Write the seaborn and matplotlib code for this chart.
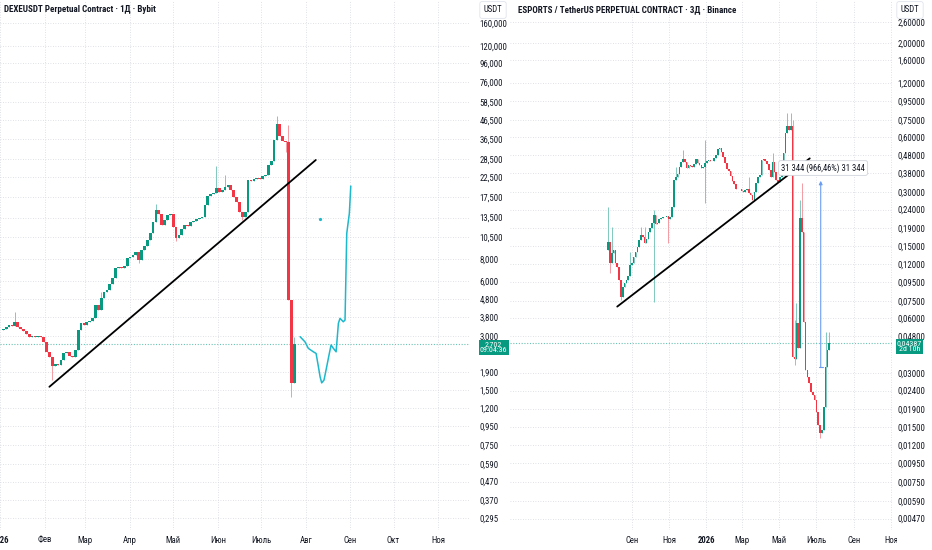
import numpy as np
import pandas as pd
import matplotlib
matplotlib.use('Agg')
import matplotlib.pyplot as plt
import matplotlib.dates as mdates
from matplotlib.ticker import NullLocator
from matplotlib.transforms import Bbox, TransformedBbox
import seaborn as sns

# ---------------- DEXEUSDT (Bybit), read every 2nd day ----------------
dexe_start = '2025-12-28'
dexe_open0 = 3.15
dexe_close = [3.19, 3.23, 3.23, 3.27, 3.36, 3.44, 3.40, 3.58, 3.36, 3.27,
              3.19, 3.07, 2.95, 2.99, 2.95, 2.99, 2.95, 2.78, 2.44, 2.29,
              2.04, 2.10, 2.07, 2.21, 2.41, 2.44, 2.32, 2.29, 2.50, 3.23,
              3.53, 3.44, 3.58, 3.62, 3.77, 4.44, 4.17, 4.85, 5.24, 5.37,
              5.80, 6.26, 7.11, 7.20, 7.11, 7.29, 8.07, 8.18, 8.38, 8.71,
              7.87, 8.94, 9.40, 10.14, 11.09, 12.76, 14.87, 14.13, 12.29, 13.09,
              13.95, 14.13, 11.98, 10.41, 10.82, 11.67, 12.29, 12.13, 12.76, 12.93,
              13.26, 13.43, 13.60, 15.89, 17.76, 18.22, 18.45, 19.67, 18.68, 19.17,
              19.92, 20.43, 19.17, 17.54, 16.46, 14.49, 13.60, 14.49, 21.77, 21.50,
              22.05, 22.34, 22.10, 22.91, 23.20, 26.30, 27.73, 36.22, 44.40, 38.10,
              35.77, 35.30, 4.73, 1.65, 2.702]
dexe_hi = {7: 4.07, 37: 5.26, 56: 16.0, 77: 25.9, 80: 23.2, 98: 49.1, 102: 43.8, 104: 2.95}
dexe_lo = {20: 1.71, 50: 7.57, 63: 10.0, 86: 13.1, 101: 31.0, 103: 1.38}
dexe_price = 2.702
dexe_timer = '09:04:36'
dexe_trend_date = ['2026-02-04', '2026-08-08']
dexe_trend_price = [1.57, 28.1]
# hand drawn cyan path: days after 2026-01-01
cyan_day = [208.1, 211.5, 213.8, 217.3, 219.2, 220.8, 222.0, 223.1, 224.7, 226.6, 228.4,
            229.6, 231.2, 233.1, 234.7, 235.8, 238.1, 239.3, 240.5, 242.3, 243.3]
cyan_price = [2.97, 2.78, 2.56, 2.45, 2.40, 2.03, 1.78, 1.65, 1.71, 2.03, 2.40,
              2.67, 2.56, 2.45, 3.52, 3.75, 3.59, 3.67, 11.05, 14.25, 20.17]
cyan_dot = (221.9, 13.26)
dexe_yticks = [160, 120, 96, 76, 58.5, 46.5, 36.5, 28.5, 22.5, 17.5, 13.5, 10.5, 8, 6,
               4.8, 3.8, 3.0, 1.9, 1.5, 1.2, 0.95, 0.75, 0.59, 0.47, 0.37, 0.295]
dexe_months = ['2026', 'Фев', 'Мар', 'Апр', 'Май', 'Июн', 'Июль', 'Авг', 'Сен', 'Окт', 'Ноя']

# ---------------- ESPORTS (Binance), 3D candles ----------------
esp_start = '2025-07-24'
esp_open0 = 0.1434
esp_close = [0.1594, 0.1211, 0.1375, 0.1434, 0.1211, 0.1160, 0.0979, 0.0792, 0.0899, 0.0946,
             0.0979, 0.1030, 0.1185, 0.1211, 0.1317, 0.1404, 0.1496, 0.1628, 0.1735, 0.1685,
             0.1574, 0.1642, 0.1811, 0.1889, 0.2030, 0.2239, 0.1996, 0.2030, 0.2118, 0.2146,
             0.2173, 0.2192, 0.2211, 0.2137, 0.2192, 0.2468, 0.3493, 0.3614, 0.3772, 0.4140,
             0.4412, 0.4583, 0.4393, 0.4053, 0.4210, 0.4175, 0.4140, 0.4282, 0.4544, 0.4356,
             0.4210, 0.4053, 0.4140, 0.4356, 0.4468, 0.4506, 0.4449, 0.4468, 0.4603, 0.4802,
             0.5161, 0.5228, 0.5011, 0.4661, 0.4319, 0.4036, 0.3934, 0.3677, 0.3464, 0.3320,
             0.3102, 0.3128, 0.3102, 0.3050, 0.2999, 0.3076, 0.3102, 0.2973, 0.2899, 0.2710,
             0.3012, 0.3349, 0.3614, 0.3708, 0.4506, 0.4583, 0.4468, 0.4282, 0.3967, 0.3614,
             0.4412, 0.3884, 0.3493, 0.3405, 0.3614, 0.3772, 0.4904, 0.6326, 0.6945, 0.6604,
             0.6945, 0.0369, 0.0357, 0.0569, 0.0411, 0.2146, 0.1811, 0.0576, 0.0312, 0.0286,
             0.0263, 0.0237, 0.0227, 0.0213, 0.0183, 0.0155, 0.0139, 0.0145, 0.0195, 0.0325,
             0.0402, 0.04387]
esp_hi = {0: 0.2489, 2: 0.1930, 12: 0.1404, 18: 0.1930, 20: 0.1930, 25: 0.2380, 37: 0.4140,
          41: 0.5118, 53: 0.5810, 77: 0.3614, 90: 0.4904, 98: 0.8157, 100: 0.8157, 101: 0.7490,
          102: 0.0589, 103: 0.0728, 105: 0.2710, 106: 0.3349, 119: 0.0507, 121: 0.0507}
esp_lo = {1: 0.1066, 7: 0.0759, 25: 0.0743, 33: 0.1561, 53: 0.2597, 102: 0.0332, 116: 0.0131}
esp_price = 0.04387
esp_timer = '2d 10h'
esp_trend_date = ['2025-08-08', '2026-06-20']
esp_trend_price = [0.0698, 0.460]
esp_measure_date = '2026-07-08'
esp_measure = [0.03243, 0.3459]
esp_measure_text = '31 344 (966,46%) 31 344'
esp_measure_label = ('2026-07-12', 0.407)
esp_yticks = [2.6, 2.0, 1.6, 1.2, 0.95, 0.75, 0.6, 0.48, 0.38, 0.30, 0.24, 0.19, 0.15, 0.12,
              0.095, 0.075, 0.06, 0.048, 0.03, 0.024, 0.019, 0.015, 0.012, 0.0095, 0.0075,
              0.0059, 0.0047]
esp_months = ['Сен', 'Ноя', '2026', 'Мар', 'Май', 'Июль', 'Сен', 'Ноя']

GREEN = '#089981'
RED = '#f23645'
GREEN_WICK = '#7fc9bd'
RED_WICK = '#f59aa2'
CYAN = '#1cb8cc'
TXT = '#131722'

sns.set_theme(style='white')
plt.rcParams['font.family'] = ['Roboto Condensed', 'Liberation Sans Narrow', 'Roboto', 'DejaVu Sans']


def num(d):
    return mdates.date2num(pd.to_datetime(d))


def fmt(v, nd):
    return f'{v:.{nd}f}'.replace('.', ',')


def candles(ax, dates, open0, closes, hi, lo, width):
    x = mdates.date2num(dates)
    c = np.array(closes, float)
    o = np.r_[open0, c[:-1]]
    top = np.maximum(o, c)
    bot = np.minimum(o, c)
    high = top.copy()
    low = bot.copy()
    for k, v in hi.items():
        high[k] = v
    for k, v in lo.items():
        low[k] = v
    up = c >= o
    ax.vlines(x, low, high, colors=np.where(up, GREEN_WICK, RED_WICK), lw=0.7, zorder=2)
    ax.bar(x, top - bot, bottom=bot, width=width, color=np.where(up, GREEN, RED),
           lw=0, zorder=3)


def style(ax, yticks, nd, ylim, xlim, tick_dates, tick_labels, pad):
    ax.set_yscale('log')
    ax.set_ylim(*ylim)
    ax.set_xlim(num(xlim[0]), num(xlim[1]))
    ax.yaxis.set_minor_locator(NullLocator())
    ax.set_yticks(yticks, labels=[fmt(v, nd) for v in yticks])
    ax.yaxis.tick_right()
    ax.set_xticks(mdates.date2num(tick_dates), labels=tick_labels)
    ax.xaxis.set_minor_locator(NullLocator())
    ax.tick_params(axis='y', length=0, pad=pad, labelsize=6.3, labelcolor=TXT)
    ax.tick_params(axis='x', length=0, pad=4, labelsize=6.3, labelcolor=TXT)
    for lbl in ax.get_xticklabels():
        if lbl.get_text() == '2026':
            lbl.set_fontweight('bold')
    for s in ax.spines.values():
        s.set_visible(False)
    ax.grid(True, ls=(0, (1, 2)), color='#d5d8df', lw=0.6)
    ax.set_axisbelow(True)


fig = plt.figure(figsize=(9.32, 5.5), dpi=100)
ax1 = fig.add_axes([0, 20 / 550, 470 / 932, 530 / 550])
ax2 = fig.add_axes([510 / 932, 20 / 550, 382 / 932, 530 / 550])

# ---- left chart ----
dexe_dates = pd.date_range(dexe_start, periods=len(dexe_close), freq='2D')
candles(ax1, dexe_dates, dexe_open0, dexe_close, dexe_hi, dexe_lo, 1.9)
ax1.axhline(dexe_price, ls=(0, (1, 1.5)), color=GREEN, lw=0.8, alpha=0.6, zorder=1)
sns.lineplot(x=num(dexe_trend_date), y=dexe_trend_price, ax=ax1, color='black', lw=1.3, zorder=4)
cyan_x = num(pd.Timestamp('2026-01-01') + pd.to_timedelta(cyan_day, unit='D'))
sns.lineplot(x=cyan_x, y=cyan_price, ax=ax1, color=CYAN, lw=1.1, sort=False, zorder=4)
dot_x = num(pd.Timestamp('2026-01-01') + pd.to_timedelta(cyan_dot[0], unit='D'))
ax1.plot([dot_x], [cyan_dot[1]], marker='o', ms=1.3, color=CYAN, zorder=4)
style(ax1, dexe_yticks, 3, (0.254, 215), ('2025-12-31 17:00', '2026-11-23 02:00'),
      pd.date_range('2026-01-01', periods=len(dexe_months), freq='MS'), dexe_months, 7)
ax1.annotate(f'{fmt(dexe_price, 3)}\n{dexe_timer}', xy=(1, dexe_price),
             xycoords=('axes fraction', 'data'), xytext=(17, -2.4), textcoords='offset points',
             ha='center', va='center', fontsize=5.7, color='white', linespacing=1.0,
             bbox=dict(boxstyle='square,pad=0.15', fc=GREEN, ec='none'),
             annotation_clip=False, zorder=10)

# ---- right chart ----
esp_dates = pd.date_range(esp_start, periods=len(esp_close), freq='3D')
candles(ax2, esp_dates, esp_open0, esp_close, esp_hi, esp_lo, 2.6)
ax2.axhline(esp_price, ls=(0, (1, 1.5)), color=GREEN, lw=0.8, alpha=0.6, zorder=1)
sns.lineplot(x=num(esp_trend_date), y=esp_trend_price, ax=ax2, color='black', lw=1.3, zorder=4)
mx = num(esp_measure_date)
ax2.annotate('', xy=(mx, esp_measure[1]), xytext=(mx, esp_measure[0]),
             arrowprops=dict(arrowstyle='-|>', color='#6a9ef5', lw=0.8, mutation_scale=5,
                             shrinkA=0, shrinkB=0), zorder=5)
ax2.plot([mx - 3, mx + 3], [esp_measure[0]] * 2, color='#6a9ef5', lw=0.8, zorder=5)
ax2.text(num(esp_measure_label[0]), esp_measure_label[1], esp_measure_text,
         ha='center', va='center', fontsize=6.2, color=TXT, zorder=6,
         bbox=dict(boxstyle='round,pad=0.3,rounding_size=0.25', fc='white', ec='#d1d4dc', lw=0.6))
style(ax2, esp_yticks, 5, (0.00407, 3.45), ('2025-02-13', '2026-11-02'),
      pd.date_range('2025-09-01', periods=len(esp_months), freq='2MS'), esp_months, 4)
last = ax2.get_xticklabels()[-1]
last.set_clip_box(TransformedBbox(Bbox.from_extents(0, 0, 8.97, 5.5), fig.dpi_scale_trans))
last.set_clip_on(True)
ax2.annotate(f'{fmt(esp_price, 5)}\n{esp_timer}', xy=(1, esp_price),
             xycoords=('axes fraction', 'data'), xytext=(12.5, -2.4), textcoords='offset points',
             ha='center', va='center', fontsize=5.7, color='white', linespacing=1.0,
             bbox=dict(boxstyle='square,pad=0.15', fc=GREEN, ec='none'),
             annotation_clip=False, zorder=10)

# ---- headers ----
fig.text(4 / 932, 1 - 10 / 550, 'DEXEUSDT Perpetual Contract · 1Д · Bybit', ha='left',
         va='center', fontsize=6.5, fontweight='bold', color=TXT)
fig.text(518 / 932, 1 - 10 / 550, 'ESPORTS / TetherUS PERPETUAL CONTRACT · 3Д · Binance',
         ha='left', va='center', fontsize=6.5, fontweight='bold', color=TXT)
for xc in (493, 910):
    fig.text(xc / 932, 1 - 10 / 550, 'USDT', ha='center', va='center', fontsize=6.2, color=TXT,
             bbox=dict(boxstyle='round,pad=0.45,rounding_size=0.25', fc='white',
                       ec='#e0e3eb', lw=0.6))

fig.savefig('out.png', dpi=100, facecolor='white')
